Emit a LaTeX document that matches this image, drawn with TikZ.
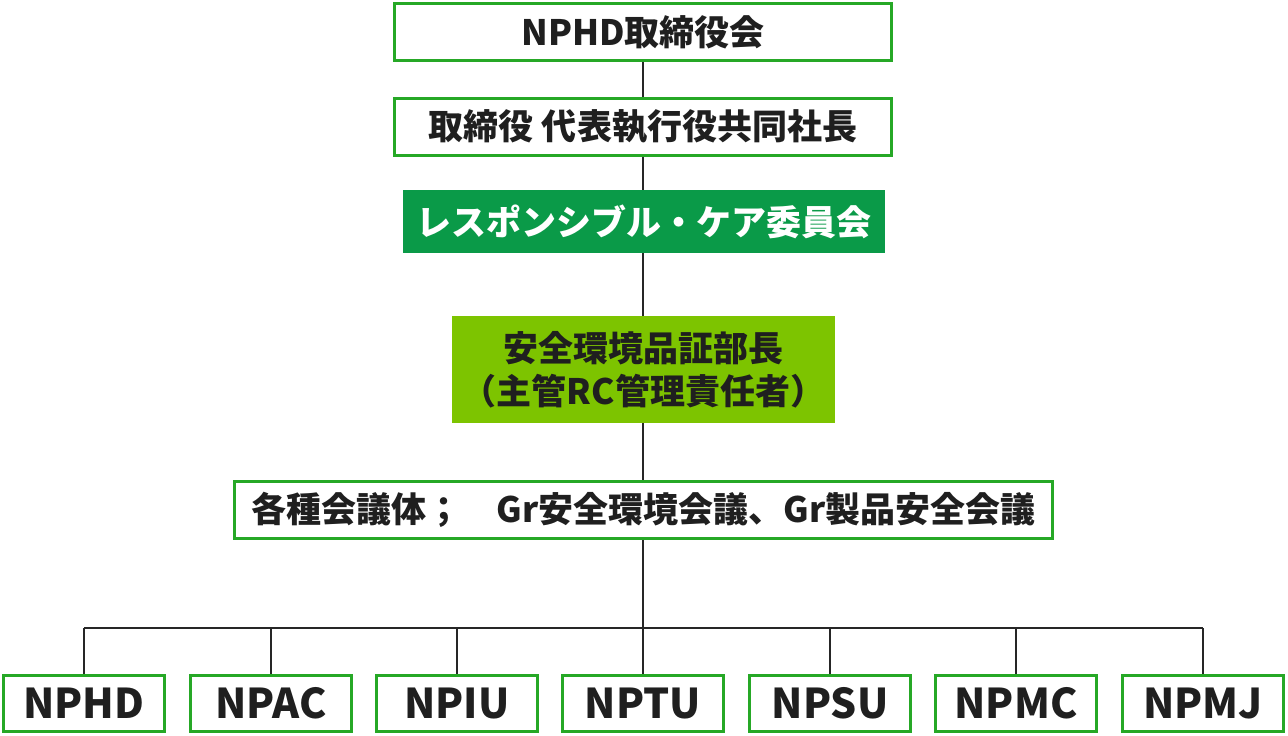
\documentclass[tikz,border=0pt]{standalone}
\usepackage{fontspec}
\setmainfont{Noto Sans CJK JP}
\begin{document}
\begin{tikzpicture}[x=1pt,y=-1pt,
  txt/.style={text=black!88},
  wbox/.style={draw=green!60!black!85!white, line width=3pt, fill=white, txt, font=\fontsize{35}{40}\selectfont\bfseries, inner sep=0pt},
  lnk/.style={line width=1.2pt, black!85}]
\definecolor{dg}{HTML}{0A9A48}\definecolor{lg}{HTML}{7DC400}
\useasboundingbox (0,0) rectangle (1288,736);
\draw[lnk] (643,32) -- (643,674);
\draw[lnk] (84,628) -- (1203,628);
\foreach \x in {84,271,457,830,1016,1203} \draw[lnk] (\x,628) -- (\x,674);
\node[wbox, minimum width=497, minimum height=57] (a) at (643,32) {NPHD取締役会};
\node[wbox, minimum width=497, minimum height=57] (b) at (643,127) {取締役\ 代表執行役共同社長};
\node[fill=dg, text=white, minimum width=482, minimum height=63, inner sep=0pt, font=\fontsize{35}{40}\selectfont\bfseries] (c) at (644,221.5) {レスポンシブル・ケア委員会};
\node[fill=lg, txt, minimum width=383, minimum height=107, inner sep=0pt, align=center, font=\fontsize{35}{43}\selectfont\bfseries] (d) at (643.5,369.5) {安全環境品証部長\\（主管RC管理責任者）};
\node[wbox, minimum width=818, minimum height=57] (e) at (643.5,510) {各種会議体；\quad Gr安全環境会議、Gr製品安全会議};
\foreach \x/\t [count=\i] in {84/NPHD,271/NPAC,457/NPIU,643/NPTU,830/NPSU,1016/NPMC,1203/NPMJ}
  \node[wbox, minimum width=161, minimum height=56, font=\fontsize{41}{45}\selectfont\bfseries] (n\i) at (\x,703.5) {\t};
\end{tikzpicture}
\end{document}
